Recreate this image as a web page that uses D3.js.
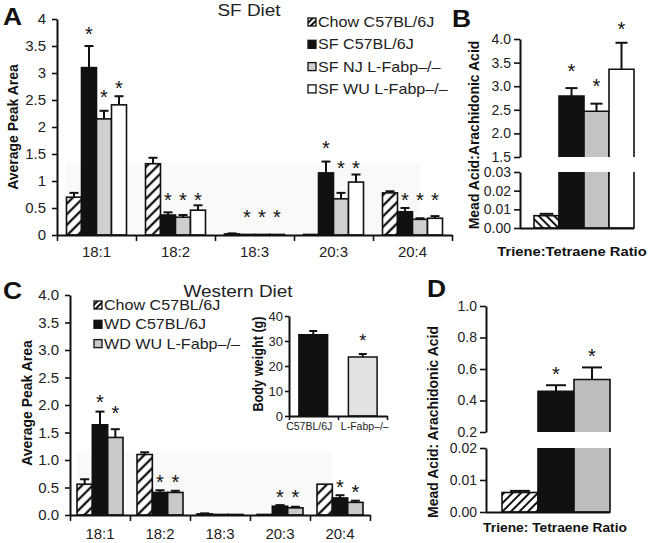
<!DOCTYPE html>
<html><head><meta charset="utf-8">
<script src="https://cdn.jsdelivr.net/npm/d3@7"></script>
<style>
body{margin:0;background:#fff}
svg{display:block;font-family:"Liberation Sans",Arial,Helvetica,sans-serif}
</style>
</head><body>
<svg id="fig" width="649" height="543"></svg>
<script>
// ---------------- DATA ----------------
// Panel A (SF diet)
const catsA = ["18:1","18:2","18:3","20:3","20:4"];
const seriesA = ["Chow C57BL/6J","SF C57BL/6J","SF NJ L-Fabp–/–","SF WU L-Fabp–/–"];
const valA = [
  [0.70, 3.10, 2.15, 2.41],
  [1.32, 0.37, 0.33, 0.46],
  [0.02, 0.01, 0.01, 0.01],
  [0.01, 1.15, 0.67, 0.98],
  [0.78, 0.43, 0.29, 0.31]];
const errA = [
  [0.78, 3.50, 2.30, 2.57],
  [1.43, 0.42, 0.37, 0.55],
  [0.03, 0.01, 0.01, 0.01],
  [0.01, 1.36, 0.78, 1.12],
  [0.81, 0.50, 0.31, 0.35]];
const starA = [
  [null, 3.80, 2.65, 2.81],
  [null, 0.74, 0.74, 0.74],
  [null, 0.41, 0.41, 0.41],
  [null, 1.70, 1.33, 1.33],
  [null, 0.74, 0.74, 0.74]];
const ticksA = [0,0.5,1,1.5,2,2.5,3,3.5,4];

// Panel B (SF diet triene:tetraene)
const seriesB = ["Chow C57BL/6J","SF C57BL/6J","SF NJ L-Fabp–/–","SF WU L-Fabp–/–"];
const valB = [0.0066, 2.79, 2.47, 3.36];
const errB = [0.0076, 2.96, 2.63, 3.92];
const starB = [null, 3.41, 3.10, 4.31];
const ticksBUp = [1.5,2.0,2.5,3.0,3.5,4.0];
const ticksBLo = [0,0.01,0.02,0.03];

// Panel C (Western diet)
const catsC = ["18:1","18:2","18:3","20:3","20:4"];
const seriesC = ["Chow C57BL/6J","WD C57BL/6J","WD WU L-Fabp–/–"];
const valC = [
  [0.56, 1.64, 1.41],
  [1.10, 0.41, 0.41],
  [0.02, 0.01, 0.01],
  [0.01, 0.16, 0.13],
  [0.56, 0.31, 0.23]];
const errC = [
  [0.65, 1.88, 1.56],
  [1.14, 0.45, 0.44],
  [0.03, 0.01, 0.01],
  [0.01, 0.18, 0.15],
  [0.56, 0.36, 0.26]];
const starC = [
  [null, 2.13, 1.93],
  [null, 0.69, 0.69],
  [null, null, null],
  [null, 0.42, 0.42],
  [null, 0.60, 0.51]];
const ticksC = [0,0.5,1,1.5,2,2.5,3,3.5,4];

// Inset (body weight)
const catsIn = ["C57BL/6J","L-Fabp–/–"];
const valIn = [32.5, 23.6];
const errIn = [34.0, 24.8];
const starIn = [null, 31.6];
const ticksIn = [0,10,20,30,40];

// Panel D (Western diet triene:tetraene)
const seriesD = ["Chow C57BL/6J","WD C57BL/6J","WD WU L-Fabp–/–"];
const valD = [0.0061, 0.458, 0.533];
const errD = [0.0066, 0.497, 0.610];
const starD = [null, 0.596, 0.71];
const ticksDUp = [0.2,0.4,0.6,0.8,1.0];
const ticksDLo = [0,0.01,0.02];

// ---------------- DRAWING ----------------
const svg = d3.select("#fig");
const defs = svg.append("defs");
const SX = 1.15;
const INK = "#111";
const TXT = "#222";

function hatch(id, sp, ang, sw){
  const p = defs.append("pattern").attr("id",id).attr("patternUnits","userSpaceOnUse")
    .attr("width",sp).attr("height",sp).attr("patternTransform",`rotate(${ang})`);
  p.append("rect").attr("width",sp).attr("height",sp).attr("fill","#fff");
  p.append("line").attr("x1",sp/2).attr("x2",sp/2).attr("y1",0).attr("y2",sp)
    .attr("stroke",INK).attr("stroke-width",sw);
}
hatch("hA", 7.5, 45, 2.3);
hatch("hB", 5.5, -45, 2);
hatch("hD", 6, 45, 2);
hatch("hL", 4, 45, 2);

function txt(g, x, y, s, o={}){
  let tr = `translate(${x},${y}) scale(${o.sx||SX},1)`;
  if (o.rot) tr += ` rotate(${o.rot})`;
  const t = g.append("text").attr("transform",tr).attr("font-size",o.size||14)
    .attr("text-anchor",o.anchor||"start").attr("fill",o.fill||TXT).text(s);
  if (o.bold) t.attr("font-weight","bold");
  return t;
}
function styleAxis(a, fs){
  a.select(".domain").attr("stroke",INK).attr("stroke-width",2);
  a.selectAll(".tick line").attr("stroke",INK).attr("stroke-width",1.6);
  a.selectAll(".tick text").attr("fill",TXT).attr("font-size",fs||15)
    .attr("font-family","'Liberation Sans',Arial,sans-serif");
}
function star(g, x, y, size){
  g.append("text").attr("x",x).attr("y",y + size*0.58).attr("text-anchor","middle")
    .attr("font-size",size).attr("fill",INK).text("*");
}
function errBar(g, x, y0, y1, cap){
  g.append("line").attr("x1",x).attr("x2",x).attr("y1",y0).attr("y2",y1)
    .attr("stroke",INK).attr("stroke-width",2);
  g.append("line").attr("x1",x-cap/2).attr("x2",x+cap/2).attr("y1",y1).attr("y2",y1)
    .attr("stroke",INK).attr("stroke-width",2);
}

// Grouped-bar panel (A and C)
function groupPanel(o){
  const g = svg.append("g");
  const y = d3.scaleLinear().domain([0,4]).range(o.yRange);
  const x0 = d3.scaleBand().domain(o.cats).range(o.xRange);
  const bw = x0.bandwidth();
  const x1 = d3.scaleBand().domain(o.series).range([(bw-o.groupW)/2,(bw+o.groupW)/2]);
  g.append("rect").attr("x",o.shade[0]).attr("y",o.shade[1]).attr("width",o.shade[2]-o.shade[0])
    .attr("height",o.yRange[0]-o.shade[1]).attr("fill","#f9f9f9");
  o.cats.forEach((c,ci)=>{
    o.series.forEach((s,si)=>{
      const v = o.vals[ci][si], e = o.errs[ci][si];
      const bx = x0(c)+x1(s), w = x1.bandwidth();
      g.append("rect").attr("x",bx).attr("y",y(v)).attr("width",w).attr("height",y(0)-y(v))
        .attr("fill",o.fills[si]).attr("stroke",INK).attr("stroke-width",1.6);
      if (e > v) errBar(g, bx+w/2, y(v), y(e), o.cap);
      const st = o.stars[ci][si];
      if (st !== null) star(g, bx+w/2, y(st), 20);
    });
  });
  const ay = g.append("g").attr("transform",`translate(${o.xRange[0]},0)`)
    .call(d3.axisLeft(y).tickValues(o.ticks).tickFormat(o.fmt).tickSize(5).tickSizeOuter(0).tickPadding(6));
  styleAxis(ay, 15);
  const xb = d3.scaleLinear().domain([0,o.cats.length]).range(o.xRange);
  const axb = g.append("g").attr("transform",`translate(0,${o.yRange[0]})`)
    .call(d3.axisBottom(xb).tickValues(d3.range(o.cats.length+1)).tickFormat("").tickSize(6).tickSizeOuter(0));
  styleAxis(axb, 15);
  const axl = g.append("g").attr("transform",`translate(0,${o.yRange[0]})`)
    .call(d3.axisBottom(x0).tickSize(0).tickPadding(o.labPad));
  axl.select(".domain").remove();
  styleAxis(axl, 15);
  return {g, y, x0};
}

// ---------- Panel A ----------
groupPanel({cats:catsA, series:seriesA, vals:valA, errs:errA, stars:starA,
  xRange:[57,452], yRange:[235,19], groupW:60, cap:9, ticks:ticksA, fmt:d3.format("~g"),
  fills:["url(#hA)",INK,"#cfcfcf","#fff"], labPad:11, shade:[65,163,420]});
txt(svg, 3, 25, "A", {size:24, bold:true, fill:INK, sx:1.1});
txt(svg, 249, 16, "SF Diet", {size:16.5, anchor:"middle"});
txt(svg, 18, 127, "Average Peak Area", {size:14, bold:true, anchor:"middle", rot:-90, fill:INK, sx:1.1});
const legAFill = ["url(#hL)",INK,"#cfcfcf","#fff"];
seriesA.forEach((s,i)=>{
  const cy = 22 + i*22.3;
  svg.append("rect").attr("x",308).attr("y",cy-4).attr("width",8).attr("height",8)
    .attr("fill",legAFill[i]).attr("stroke",INK).attr("stroke-width",1.3);
  txt(svg, 318, cy+5, s, {size:14});
});

// ---------- Broken-axis panel (B and D) ----------
function brokenPanel(o){
  const g = svg.append("g");
  const yU = d3.scaleLinear().domain(o.upDom).range(o.upRange);
  const yL = d3.scaleLinear().domain(o.loDom).range(o.loRange);
  const x = d3.scaleBand().domain(o.series).range(o.barRange);
  const w = x.bandwidth();
  o.series.forEach((s,i)=>{
    const v = o.vals[i], e = o.errs[i], bx = x(s);
    if (v <= o.loDom[1]){
      g.append("rect").attr("x",bx).attr("y",yL(v)).attr("width",w).attr("height",yL(0)-yL(v))
        .attr("fill",o.fills[i]).attr("stroke",INK).attr("stroke-width",1.6);
      errBar(g, bx+w/2, yL(v), yL(e), w*0.55);
    } else {
      const lt = yL(o.loDom[1]), lb = yL(0);
      g.append("rect").attr("x",bx).attr("y",lt).attr("width",w).attr("height",lb-lt).attr("fill",o.fills[i]);
      g.append("path").attr("d",`M${bx},${lt}V${lb}H${bx+w}V${lt}`).attr("fill","none")
        .attr("stroke",INK).attr("stroke-width",1.6);
      const ut = yU(v), ub = yU(o.upDom[0]);
      g.append("rect").attr("x",bx).attr("y",ut).attr("width",w).attr("height",ub-ut).attr("fill",o.fills[i]);
      g.append("path").attr("d",`M${bx},${ub}V${ut}H${bx+w}V${ub}`).attr("fill","none")
        .attr("stroke",INK).attr("stroke-width",1.6);
      errBar(g, bx+w/2, ut, yU(e), o.cap);
    }
    if (o.stars[i] !== null) star(g, bx+w/2, yU(o.stars[i]), 20);
  });
  const au = g.append("g").attr("transform",`translate(${o.axisX},0)`)
    .call(d3.axisLeft(yU).tickValues(o.upTicks).tickFormat(d3.format(".1f")).tickSize(6).tickSizeOuter(0).tickPadding(3));
  styleAxis(au, 14);
  const al = g.append("g").attr("transform",`translate(${o.axisX},0)`)
    .call(d3.axisLeft(yL).tickValues(o.loTicks).tickFormat(d3.format(".2f")).tickSize(6).tickSizeOuter(0).tickPadding(3));
  styleAxis(al, 14);
  g.append("line").attr("x1",o.axisX).attr("x2",o.barRange[1]).attr("y1",yL(0)+0.5).attr("y2",yL(0)+0.5)
    .attr("stroke",INK).attr("stroke-width",2);
  return g;
}

// ---------- Panel B ----------
brokenPanel({series:seriesB, vals:valB, errs:errB, stars:starB,
  upDom:[1.5,4], upRange:[157,39], loDom:[0,0.03], loRange:[228,172],
  upTicks:ticksBUp, loTicks:ticksBLo, barRange:[534,634], axisX:520, cap:12,
  fills:["url(#hB)",INK,"#c3c3c3","#fff"]});
txt(svg, 452, 27, "B", {size:24, bold:true, fill:INK, sx:1.1});
txt(svg, 479, 135, "Mead Acid:Arachidonic Acid", {size:14, bold:true, anchor:"middle", rot:-90, fill:INK, sx:1.05});
txt(svg, 572, 256, "Triene:Tetraene Ratio", {size:12.8, bold:true, anchor:"middle", fill:INK});

// ---------- Panel C ----------
groupPanel({cats:catsC, series:seriesC, vals:valC, errs:errC, stars:starC,
  xRange:[70,370], yRange:[515,295], groupW:46, cap:9, ticks:ticksC, fmt:d3.format(".1f"),
  fills:["url(#hA)",INK,"#c9c9c9"], labPad:13, shade:[77,453,332]});
txt(svg, 3, 299, "C", {size:24, bold:true, fill:INK, sx:1.1});
txt(svg, 238, 297, "Western Diet", {size:16.5, anchor:"middle"});
txt(svg, 32, 403, "Average Peak Area", {size:14, bold:true, anchor:"middle", rot:-90, fill:INK, sx:1.1});
const legCFill = ["url(#hL)",INK,"#c9c9c9"];
seriesC.forEach((s,i)=>{
  const cy = 305 + i*19.3;
  svg.append("rect").attr("x",94).attr("y",cy-4).attr("width",8).attr("height",8)
    .attr("fill",legCFill[i]).attr("stroke",INK).attr("stroke-width",1.3);
  txt(svg, 104, cy+5, s, {size:14});
});

// ---------- Inset ----------
(function(){
  const g = svg.append("g");
  const y = d3.scaleLinear().domain([0,40]).range([416,316]);
  const x = d3.scaleBand().domain(catsIn).range([289,387]).paddingInner(0.42).paddingOuter(0.2);
  const fills = [INK,"#e2e2e2"];
  catsIn.forEach((c,i)=>{
    const bx = x(c), w = x.bandwidth();
    g.append("rect").attr("x",bx).attr("y",y(valIn[i])).attr("width",w).attr("height",y(0)-y(valIn[i]))
      .attr("fill",fills[i]).attr("stroke",INK).attr("stroke-width",1.5);
    errBar(g, bx+w/2, y(valIn[i]), y(errIn[i]), 8);
    if (starIn[i] !== null) star(g, bx+w/2, y(starIn[i]), 18);
  });
  const ay = g.append("g").attr("transform","translate(289,0)")
    .call(d3.axisLeft(y).tickValues(ticksIn).tickSize(4).tickSizeOuter(0).tickPadding(2));
  styleAxis(ay, 13);
  const xb = d3.scaleLinear().domain([0,2]).range([289,387]);
  const axb = g.append("g").attr("transform","translate(0,416)")
    .call(d3.axisBottom(xb).tickValues([0,1,2]).tickFormat("").tickSize(4).tickSizeOuter(0));
  styleAxis(axb, 13);
  const axl = g.append("g").attr("transform","translate(0,416)")
    .call(d3.axisBottom(x).tickSize(0).tickPadding(7));
  axl.select(".domain").remove();
  styleAxis(axl, 10.5);
  axl.selectAll(".tick").attr("transform", d => `translate(${x(d)+x.bandwidth()/2 + (d===catsIn[0]?-4:2)},0)`);
  txt(svg, 263, 364, "Body weight (g)", {size:12.7, bold:true, anchor:"middle", rot:-90, fill:INK, sx:1.1});
})();

// ---------- Panel D ----------
brokenPanel({series:seriesD, vals:valD, errs:errD, stars:starD,
  upDom:[0.2,1.0], upRange:[432,306], loDom:[0,0.02], loRange:[512,448],
  upTicks:ticksDUp, loTicks:ticksDLo, barRange:[502,610], axisX:486, cap:20,
  fills:["url(#hD)",INK,"#bebebe"]});
txt(svg, 427, 297, "D", {size:24, bold:true, fill:INK, sx:1.1});
txt(svg, 438, 422, "Mead Acid: Arachidonic Acid", {size:14, bold:true, anchor:"middle", rot:-90, fill:INK, sx:1.1});
txt(svg, 555, 532, "Triene: Tetraene Ratio", {size:12, bold:true, anchor:"middle", fill:INK});
</script>
</body></html>
